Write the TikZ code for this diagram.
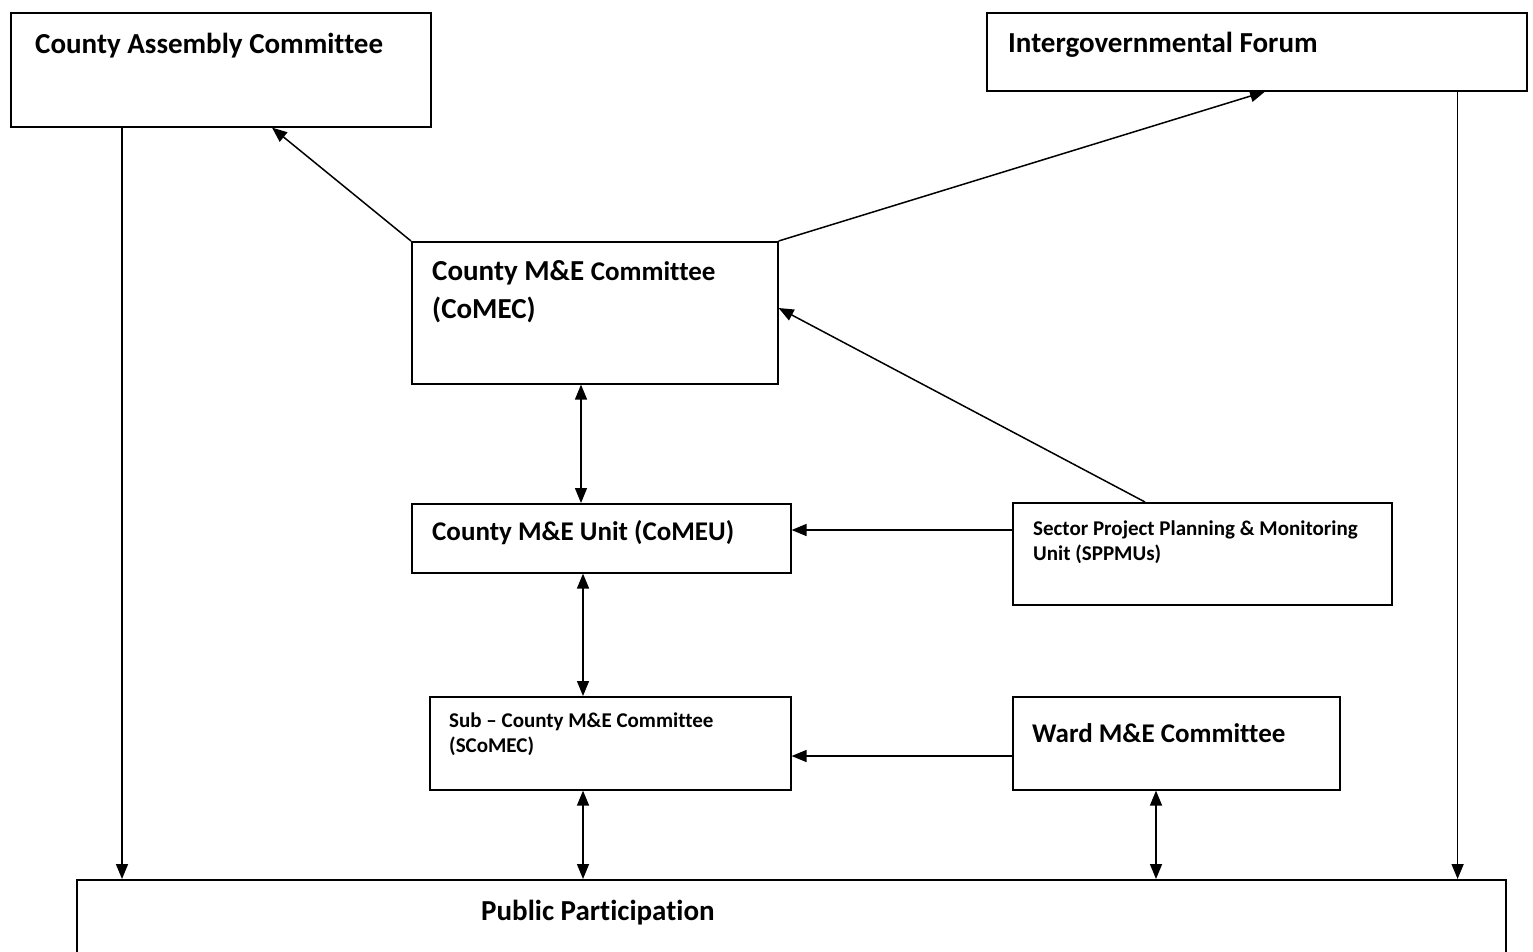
\documentclass[tikz,border=0pt]{standalone}
\usepackage{fontspec}
\setmainfont{Carlito}[Ligatures=NoCommon]
\usetikzlibrary{arrows.meta}
\begin{document}
\begin{tikzpicture}[x=1pt,y=-1pt,
  box/.style={draw,line width=1.6pt,anchor=north west,inner sep=0pt},
  big/.style={anchor=base west,inner sep=0pt,font=\fontsize{29}{35}\selectfont\bfseries},
  mid/.style={anchor=base west,inner sep=0pt,font=\fontsize{27}{32}\selectfont\bfseries},
  small/.style={anchor=base west,inner sep=0pt,font=\fontsize{21}{25}\selectfont\bfseries},
  arr/.style={line width=1.5pt,-{Triangle[length=15pt,width=12pt]}},
  darr/.style={line width=1.5pt,{Triangle[length=15pt,width=12pt]}-{Triangle[length=15pt,width=12pt]}}]
\clip (0,0) rectangle (1533,951);
\fill[white] (0,0) rectangle (1533,951);
% boxes
\node[box,minimum width=420pt,minimum height=114pt] (cac) at (10,12) {};
\node[box,minimum width=540pt,minimum height=78pt] (igf) at (986,12) {};
\node[box,minimum width=366pt,minimum height=142pt] (comec) at (411,241) {};
\node[box,minimum width=379pt,minimum height=69pt] (comeu) at (411,503) {};
\node[box,minimum width=379pt,minimum height=102pt] (sppmu) at (1012,502) {};
\node[box,minimum width=361pt,minimum height=93pt] (scomec) at (429,696) {};
\node[box,minimum width=327pt,minimum height=93pt] (ward) at (1012,696) {};
\node[box,minimum width=1429pt,minimum height=120pt] (pub) at (76,879) {};
% texts
\node[big] (tcac) at (35,53) {County Assembly Committee};
\node[big] (tigf) at (1008,52) {Intergovernmental Forum};
\node[big] (tcomec1) at (432,280) {County M\&E {\fontsize{27}{32}\selectfont Committee}};
\node[big] (tcomec2) at (432,318) {(CoMEC)};
\node[mid] (tcomeu) at (432,540) {County M\&E Unit (CoMEU)};
\node[small] (tsppmu1) at (1033,535) {Sector Project Planning \& Monitoring};
\node[small] (tsppmu2) at (1033,560) {Unit (SPPMUs)};
\node[small] (tscomec1) at (449,727) {Sub -- County M\&E Committee};
\node[small] (tscomec2) at (449,752) {(SCoMEC)};
\node[mid] (tward) at (1032,742) {Ward M\&E Committee};
\node[big] (tpub) at (481,920) {Public Participation};
% connectors
\draw[arr] ([xshift=112pt]cac.south west) -- ([xshift=112pt]cac.south west |- pub.north);
\draw[arr] ([xshift=-70pt]igf.south east) -- ([xshift=-70pt]igf.south east |- pub.north);
\coordinate (cacin) at ([xshift=262pt]cac.south west);
\draw[arr] (comec.north west) -- (cacin);
\coordinate (igfin) at ([xshift=279pt]igf.south west);
\draw[arr] (comec.north east) -- (igfin);
\draw[arr] ([xshift=133pt]sppmu.north west) -- ([yshift=-67pt]comec.north east);
\draw[darr] ([xshift=170pt]comec.south west) -- ([xshift=170pt]comec.south west |- comeu.north);
\draw[darr] ([xshift=172pt]comeu.south west) -- ([xshift=172pt]comeu.south west |- scomec.north);
\draw[arr] ([yshift=-28pt]sppmu.north west) -- ([yshift=-28pt]sppmu.north west -| comeu.east);
\draw[arr] ([yshift=-60pt]ward.north west) -- ([yshift=-60pt]ward.north west -| scomec.east);
\draw[darr] ([xshift=154pt]scomec.south west) -- ([xshift=154pt]scomec.south west |- pub.north);
\draw[darr] ([xshift=144pt]ward.south west) -- ([xshift=144pt]ward.south west |- pub.north);
\end{tikzpicture}
\end{document}
